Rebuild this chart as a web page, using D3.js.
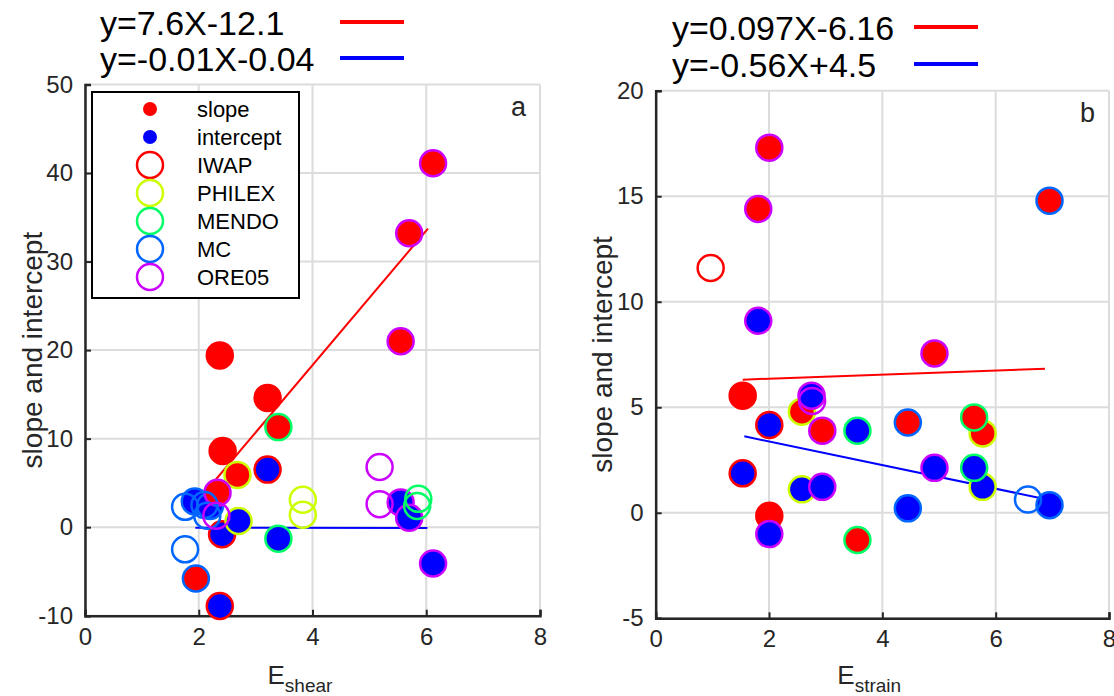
<!DOCTYPE html>
<html lang="en">
<head>
<meta charset="UTF-8">
<title>slope and intercept vs E</title>
<script src="https://d3js.org/d3.v7.min.js"></script>
<style>
    body{ margin:0; background:#fff; }
    svg text{ font-family:"Liberation Sans", Arial, sans-serif; }
</style>
</head>
<body>
<svg id="chart"></svg>
<script>
// dataset names and colours (hsv(5))
const setNames = ["IWAP", "PHILEX", "MENDO", "MC", "ORE05"];
const setColors = ["#ff0000", "#ccff00", "#00ff66", "#0066ff", "#cc00ff"];
// kind: 1 = slope (red fill), 2 = intercept (blue fill), 0 = open
const kindFill = ["none", "#ff0000", "#0000ff"];

// panel a  (E_shear)
const aX    = [2.37, 3.21, 2.42, 3.21, 2.41, 2.37, 2.68, 2.70, 3.83, 3.83, 3.40, 3.40, 5.86, 5.84, 1.95, 1.93, 2.20, 1.76, 2.15, 1.76, 2.10, 6.12, 5.70, 5.55, 2.33, 5.55, 5.70, 6.12, 5.18, 5.18, 2.31];
const aY    = [19.4, 14.6, 8.6, 6.5, -0.8, -8.9, 5.9, 0.7, 3.1, 1.4, 11.3, -1.3, 3.2, 2.4, -5.8, 2.9, 2.4, 2.3, 1.3, -2.5, 2.5, 41.1, 33.2, 21.0, 3.9, 2.8, 1.06, -4.1, 6.8, 2.6, 1.3];
const aKind = [1, 1, 1, 2, 2, 2, 1, 2, 0, 0, 1, 2, 0, 0, 1, 2, 2, 0, 0, 0, 0, 1, 1, 1, 1, 2, 2, 2, 0, 0, 0];
const aSet  = [0, 0, 0, 0, 0, 0, 1, 1, 1, 1, 2, 2, 2, 2, 3, 3, 3, 3, 3, 3, 3, 4, 4, 4, 4, 4, 4, 4, 4, 4, 4];
const aFitSlope = [7.6, -0.01];
const aFitInt   = [-12.1, -0.04];
const aFitFrom  = [2.23, 1.94];
const aFitTo    = [6.03, 6.02];
const aFitText  = ["y=7.6X-12.1", "y=-0.01X-0.04"];

// panel b  (E_strain)
const bX    = [1.535, 2.005, 1.535, 2.005, 0.97, 2.58, 2.58, 5.77, 5.77, 3.56, 3.56, 5.62, 5.62, 4.45, 4.45, 6.95, 6.95, 6.57, 2.005, 1.81, 1.81, 4.92, 4.92, 2.94, 2.94, 2.005, 2.75, 2.76];
const bY    = [5.55, 4.16, 1.87, -0.14, 11.6, 4.79, 1.11, 3.76, 1.23, 3.89, -1.29, 4.52, 2.13, 4.28, 0.21, 14.79, 0.36, 0.63, 17.3, 14.4, 9.1, 7.55, 2.13, 3.89, 1.23, -1.01, 5.55, 5.3];
const bKind = [1, 2, 2, 1, 0, 1, 2, 1, 2, 2, 1, 1, 2, 1, 2, 1, 2, 0, 1, 1, 2, 1, 2, 1, 2, 2, 2, 0];
const bSet  = [0, 0, 0, 0, 0, 1, 1, 1, 1, 2, 2, 2, 2, 3, 3, 3, 3, 3, 4, 4, 4, 4, 4, 4, 4, 4, 4, 4];
const bFitSlope = [0.097, -0.56];
const bFitInt   = [6.16, 4.5];
const bFitFrom  = [1.535, 1.564];
const bFitTo    = [6.87, 6.78];
const bFitText  = ["y=0.097X-6.16", "y=-0.56X+4.5"];

const xTicks = [0, 2, 4, 6, 8];
const aYTicks = [-10, 0, 10, 20, 30, 40, 50];
const bYTicks = [-5, 0, 5, 10, 15, 20];

const width = 1114, height = 696;
const svg = d3.select("#chart").attr("width", width).attr("height", height);

const fitColors = ["#ff0000", "#0000ff"];
const axisColor = "#262626";
const tickFmt = d => String(d);   // plain hyphen minus like the original

function panel(cfg) {
    const x = d3.scaleLinear().domain([0, 8]).range([cfg.left, cfg.right]);
    const y = d3.scaleLinear().domain(cfg.yDomain).range([cfg.bottom, cfg.top]);
    const g = svg.append("g");

    // grid
    g.selectAll(".gx").data(xTicks).enter().append("line")
        .attr("x1", d => x(d)).attr("x2", d => x(d))
        .attr("y1", cfg.top).attr("y2", cfg.bottom)
        .attr("stroke", "#dcdcdc").attr("stroke-width", 2);
    g.selectAll(".gy").data(cfg.yTicks).enter().append("line")
        .attr("x1", cfg.left).attr("x2", cfg.right)
        .attr("y1", d => y(d)).attr("y2", d => y(d))
        .attr("stroke", "#dcdcdc").attr("stroke-width", 2);

    // axes (ticks inward)
    g.append("g").attr("transform", `translate(0,${cfg.bottom})`)
        .call(d3.axisBottom(x).tickValues(xTicks).tickFormat(tickFmt).tickSize(-6).tickPadding(12))
        .call(a => a.select(".domain").attr("stroke", axisColor).attr("stroke-width", 2.5))
        .call(a => a.selectAll(".tick line").attr("stroke", axisColor).attr("stroke-width", 2))
        .call(a => a.selectAll("text").attr("font-size", 24).attr("fill", axisColor)
            .attr("font-family", "Liberation Sans, Arial, sans-serif"));
    g.append("g").attr("transform", `translate(${cfg.left},0)`)
        .call(d3.axisLeft(y).tickValues(cfg.yTicks).tickFormat(tickFmt).tickSize(-6).tickPadding(12))
        .call(a => a.select(".domain").attr("stroke", axisColor).attr("stroke-width", 2.5))
        .call(a => a.selectAll(".tick line").attr("stroke", axisColor).attr("stroke-width", 2))
        .call(a => a.selectAll("text").attr("font-size", 24).attr("fill", axisColor)
            .attr("font-family", "Liberation Sans, Arial, sans-serif"));

    // fit lines
    const fits = d3.range(cfg.fitSlope.length);
    g.selectAll(".fit").data(fits).enter().append("line")
        .attr("x1", i => x(cfg.fitFrom[i]))
        .attr("y1", i => y(cfg.fitSlope[i] * cfg.fitFrom[i] + cfg.fitInt[i]))
        .attr("x2", i => x(cfg.fitTo[i]))
        .attr("y2", i => y(cfg.fitSlope[i] * cfg.fitTo[i] + cfg.fitInt[i]))
        .attr("stroke", i => fitColors[i]).attr("stroke-width", 2);

    // points: filled first, open on top
    const idx = d3.range(cfg.xs.length);
    const order = idx.filter(i => cfg.kind[i] !== 0).concat(idx.filter(i => cfg.kind[i] === 0));
    g.selectAll(".pt").data(order).enter().append("circle")
        .attr("cx", i => x(cfg.xs[i])).attr("cy", i => y(cfg.ys[i]))
        .attr("r", 13)
        .attr("fill", i => kindFill[cfg.kind[i]])
        .attr("stroke", i => setColors[cfg.set[i]])
        .attr("stroke-width", 2.5);

    // panel letter
    g.append("text").attr("x", cfg.right - 14).attr("y", cfg.top + 31)
        .attr("text-anchor", "end").attr("font-size", 27).attr("fill", axisColor)
        .text(cfg.letter);

    // axis labels
    g.append("text")
        .attr("transform", `translate(${cfg.yLabelX},${(cfg.top + cfg.bottom) / 2}) rotate(-90)`)
        .attr("text-anchor", "middle").attr("font-size", 28).attr("fill", axisColor)
        .text("slope and intercept");
    const xl = g.append("text").attr("x", (cfg.left + cfg.right) / 2 - 45).attr("y", 684)
        .attr("font-size", 26).attr("fill", axisColor);
    xl.append("tspan").text("E");
    xl.append("tspan").attr("dy", 8).attr("font-size", 19).text(cfg.sub);

    // fit equations above the panel
    fits.forEach(i => {
        svg.append("text").attr("x", cfg.eqX).attr("y", cfg.eqY + i * cfg.eqStep)
            .attr("font-size", 34).attr("fill", "#000").text(cfg.fitText[i]);
        svg.append("line")
            .attr("x1", cfg.eqLineX).attr("x2", cfg.eqLineX + 64)
            .attr("y1", cfg.eqY - 13 + i * cfg.eqStep).attr("y2", cfg.eqY - 13 + i * cfg.eqStep)
            .attr("stroke", fitColors[i]).attr("stroke-width", 4);
    });
    return {x, y};
}

panel({left: 85, right: 540, top: 84.5, bottom: 615.7, yDomain: [-10, 50], yTicks: aYTicks,
    xs: aX, ys: aY, kind: aKind, set: aSet,
    fitSlope: aFitSlope, fitInt: aFitInt, fitFrom: aFitFrom, fitTo: aFitTo, fitText: aFitText,
    letter: "a", sub: "shear", yLabelX: 42, eqX: 100, eqY: 35, eqStep: 36, eqLineX: 340});

panel({left: 655.7, right: 1109, top: 90.7, bottom: 618.3, yDomain: [-5, 20], yTicks: bYTicks,
    xs: bX, ys: bY, kind: bKind, set: bSet,
    fitSlope: bFitSlope, fitInt: bFitInt, fitFrom: bFitFrom, fitTo: bFitTo, fitText: bFitText,
    letter: "b", sub: "strain", yLabelX: 612, eqX: 672, eqY: 40, eqStep: 37, eqLineX: 914});

// legend box (panel a)
const legend = svg.append("g");
legend.append("rect").attr("x", 92).attr("y", 92).attr("width", 207).attr("height", 206)
    .attr("fill", "#fff").attr("stroke", "#000").attr("stroke-width", 2);
const legLabels = ["slope", "intercept"].concat(setNames);
const legRow = d3.scaleLinear().domain([0, 6]).range([109, 277]);
legend.selectAll(".lm").data(legLabels).enter().append("circle")
    .attr("cx", 150).attr("cy", (d, i) => legRow(i))
    .attr("r", (d, i) => i < 2 ? 7 : 13)
    .attr("fill", (d, i) => i === 0 ? "#ff0000" : i === 1 ? "#0000ff" : "none")
    .attr("stroke", (d, i) => i < 2 ? "none" : setColors[i - 2])
    .attr("stroke-width", 2.5);
legend.selectAll(".lt").data(legLabels).enter().append("text")
    .attr("x", 197).attr("y", (d, i) => legRow(i) + 8)
    .attr("font-size", 22).attr("fill", "#000")
    .text(d => d);
</script>
</body>
</html>
